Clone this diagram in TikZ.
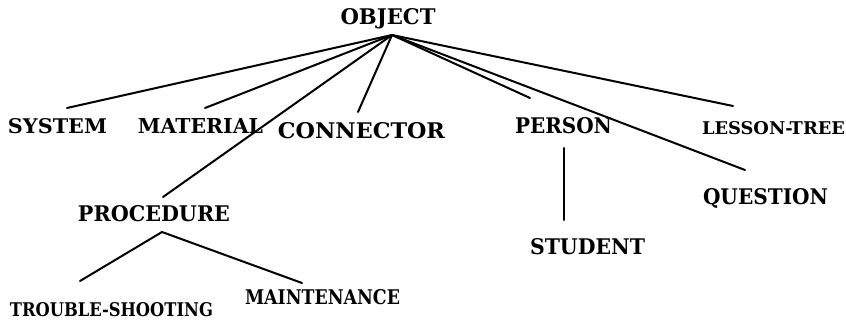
\documentclass[tikz,border=0pt]{standalone}
\usepackage{fontspec}
\setmainfont{DejaVu Serif}
\usepackage{graphicx}
% label squeezed to a given width and cap height (in pt)
\newcommand\lbl[3]{\resizebox{#1pt}{#2pt}{\bfseries #3}}
\tikzset{
  lab/.style={inner sep=0pt, anchor=center},
  edge/.style={line width=2pt, line cap=round, line join=round}
}
\begin{document}
\begin{tikzpicture}[x=1pt,y=-1pt]
\useasboundingbox (0,0) rectangle (846,321);

% class labels
\node[lab] (object)    at (388,18.5)  {\lbl{95}{16}{OBJECT}};
\node[lab] (system)    at (57.5,126)  {\lbl{99}{15}{SYSTEM}};
\node[lab] (material)  at (200.5,126) {\lbl{125}{15}{MATERIAL}};
\node[lab] (connector) at (361.5,131) {\lbl{167}{16}{CONNECTOR}};
\node[lab] (person)    at (563.5,126) {\lbl{97}{16}{PERSON}};
\node[lab] (lesson)    at (773.5,128.5) {\lbl{143}{13}{LESSON-TREE}};
\node[lab] (question)  at (765.5,198) {\lbl{125}{16}{QUESTION}};
\node[lab] (student)   at (587.5,246.5) {\lbl{115}{16}{STUDENT}};
\node[lab] (procedure) at (154,213.5) {\lbl{152}{16}{PROCEDURE}};
\node[lab] (trouble)   at (111.5,310) {\lbl{203}{14}{TROUBLE-SHOOTING}};
\node[lab] (maint)     at (322.5,297.5) {\lbl{155}{15}{MAINTENANCE}};

% branch points and line ends
\coordinate (hub)    at (392,35);
\coordinate (e-sys)  at (67,108);
\coordinate (e-mat)  at (205,108);
\coordinate (e-proc) at (163,197);
\coordinate (e-con)  at (358,112);
\coordinate (e-per)  at (530,98);
\coordinate (e-que)  at (745,170);
\coordinate (e-les)  at (733,106);
\coordinate (p-top)  at (564,148);
\coordinate (p-bot)  at (564,220);
\coordinate (proc-hub) at (162,232);
\coordinate (e-tro)  at (80,281);
\coordinate (e-mai)  at (302,283);

% OBJECT subclasses
\draw[edge] (hub) -- (e-sys);
\draw[edge] (hub) -- (e-mat);
\draw[edge] (hub) -- (e-proc);
\draw[edge] (hub) -- (e-con);
\draw[edge] (hub) -- (e-per);
\draw[edge] (hub) -- (e-que);
\draw[edge] (hub) -- (e-les);

% PERSON and PROCEDURE subclasses
\draw[edge] (p-top) -- (p-bot);
\draw[edge] (proc-hub) -- (e-tro);
\draw[edge] (proc-hub) -- (e-mai);
\end{tikzpicture}
\end{document}
